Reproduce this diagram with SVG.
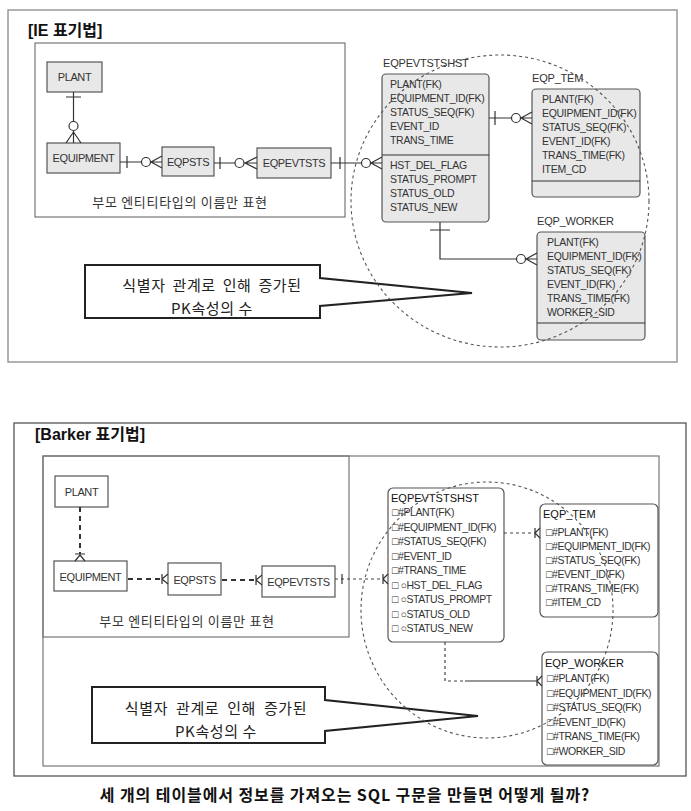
<svg xmlns="http://www.w3.org/2000/svg" width="691" height="811" viewBox="0 0 691 811">
<style>
text{font-family:"Liberation Sans","Noto Sans CJK KR",sans-serif;fill:#222}
.ttl{font-size:16px;font-weight:bold;fill:#111}
.kr{font-family:"Noto Sans CJK KR",sans-serif;font-size:13px;letter-spacing:0.7px;fill:#333}
.co{font-family:"Noto Sans CJK KR",sans-serif;font-size:15px;letter-spacing:0.6px;fill:#222;text-anchor:middle}
.cap{font-family:"Noto Sans CJK KR",sans-serif;font-size:16px;font-weight:bold;letter-spacing:0.9px;fill:#111;text-anchor:middle}
.en{font-size:11px;letter-spacing:-0.4px;text-anchor:middle;fill:#333}
.lb{font-size:11px;letter-spacing:-0.2px;fill:#333}
.at{font-size:10.5px;letter-spacing:-0.3px;fill:#333}
.bat{font-size:10.5px;letter-spacing:-0.4px;fill:#333}
.bt{font-size:11px;fill:#111}
.ie{fill:#e8e8e8;stroke:#555;stroke-width:1.2}
.bk{fill:#fff;stroke:#555;stroke-width:1.2}
.frame{fill:none;stroke:#999;stroke-width:1.5}
.inner{fill:none;stroke:#777;stroke-width:1.2}
.ln{fill:none;stroke:#333;stroke-width:1.2}
.cir{fill:#fff;stroke:#333;stroke-width:1.2}
.dl{fill:none;stroke:#444;stroke-width:1.2;stroke-dasharray:3,3}
.db{fill:none;stroke:#333;stroke-width:2;stroke-dasharray:5,4}
.ring{fill:none;stroke:#555;stroke-width:1.1;stroke-dasharray:3,3}
.call{fill:#fff;stroke:#222;stroke-width:2}
</style>

<!-- ===== IE section ===== -->
<g id="ie-frame">
<rect class="frame" x="8" y="10" width="669" height="352"/>
<text class="ttl" x="28" y="36">[IE 표기법]</text>
<rect class="inner" x="35" y="43" width="310" height="174"/>
<text class="kr" x="180" y="207" text-anchor="middle">부모 엔티티타입의 이름만 표현</text>
</g>

<g id="ie-plant"><rect class="ie" x="47" y="62" width="55" height="30"/><text class="en" x="74.5" y="81">PLANT</text></g>
<g id="ie-equipment"><rect class="ie" x="47" y="143" width="73" height="30"/><text class="en" x="83.5" y="162">EQUIPMENT</text></g>
<g id="ie-eqpsts"><rect class="ie" x="162" y="147" width="52" height="29"/><text class="en" x="188" y="166">EQPSTS</text></g>
<g id="ie-eqpevtsts"><rect class="ie" x="257" y="148" width="74" height="30"/><text class="en" x="294" y="167">EQPEVTSTS</text></g>

<g id="ie-eqpevtstshst">
<text class="lb" x="383" y="67">EQPEVTSTSHST</text>
<rect class="ie" x="382" y="74" width="107" height="148" rx="4"/>
<line class="ln" x1="382" y1="155" x2="489" y2="155"/>
<text class="at" x="390" y="88">PLANT(FK)</text>
<text class="at" x="390" y="102">EQUIPMENT_ID(FK)</text>
<text class="at" x="390" y="116">STATUS_SEQ(FK)</text>
<text class="at" x="390" y="130">EVENT_ID</text>
<text class="at" x="390" y="144">TRANS_TIME</text>
<text class="at" x="390" y="169">HST_DEL_FLAG</text>
<text class="at" x="390" y="183">STATUS_PROMPT</text>
<text class="at" x="390" y="197">STATUS_OLD</text>
<text class="at" x="390" y="211">STATUS_NEW</text>
</g>

<g id="ie-eqp-tem">
<text class="lb" x="532" y="82">EQP_TEM</text>
<rect class="ie" x="532" y="89" width="108" height="108" rx="4"/>
<line class="ln" x1="532" y1="181" x2="640" y2="181"/>
<text class="at" x="542" y="103">PLANT(FK)</text>
<text class="at" x="542" y="117">EQUIPMENT_ID(FK)</text>
<text class="at" x="542" y="131">STATUS_SEQ(FK)</text>
<text class="at" x="542" y="145">EVENT_ID(FK)</text>
<text class="at" x="542" y="159">TRANS_TIME(FK)</text>
<text class="at" x="542" y="173">ITEM_CD</text>
</g>

<g id="ie-eqp-worker">
<text class="lb" x="537" y="225">EQP_WORKER</text>
<rect class="ie" x="537" y="232" width="108" height="108" rx="4"/>
<line class="ln" x1="537" y1="323" x2="645" y2="323"/>
<text class="at" x="547" y="246">PLANT(FK)</text>
<text class="at" x="547" y="260">EQUIPMENT_ID(FK)</text>
<text class="at" x="547" y="274">STATUS_SEQ(FK)</text>
<text class="at" x="547" y="288">EVENT_ID(FK)</text>
<text class="at" x="547" y="302">TRANS_TIME(FK)</text>
<text class="at" x="547" y="316">WORKER_SID</text>
</g>

<g id="ie-connectors">
<path class="ln" d="M73.5,92 V143 M66,97 H81 M73.5,132 L66,143 M73.5,132 L81,143"/>
<circle class="cir" cx="73.5" cy="126" r="4.5"/>
<path class="ln" d="M120,162 H162 M127,156 V168 M151,162 L162,156 M151,162 L162,168"/>
<circle class="cir" cx="146" cy="162" r="4.5"/>
<path class="ln" d="M214,163 H257 M220,157 V169 M245,163 L257,157 M245,163 L257,169"/>
<circle class="cir" cx="239.5" cy="163" r="4.5"/>
<path class="ln" d="M331,163 H382 M340,157 V169 M371,163 L382,157 M371,163 L382,169"/>
<circle class="cir" cx="366" cy="163" r="4.5"/>
<path class="ln" d="M489,118 H532 M495,111 V125 M521,118 L532,112 M521,118 L532,124"/>
<circle class="cir" cx="516" cy="118" r="4.5"/>
<path class="ln" d="M440,222 V259 H537 M430,230 H450 M526,259 L537,253 M526,259 L537,265"/>
<circle class="cir" cx="521" cy="259" r="4.5"/>
</g>

<g id="ie-callout">
<path class="call" d="M85,265 H320 V278 L472,293 L320,306 V318 H85 Z"/>
<text class="co" x="212" y="291" word-spacing="3">식별자 관계로 인해 증가된</text>
<text class="co" x="212" y="314">PK속성의 수</text>
</g>
<ellipse class="ring" cx="500" cy="201" rx="149" ry="146"/>

<!-- ===== Barker section ===== -->
<g id="bk-frame">
<rect x="14" y="423" width="672" height="353" fill="none" stroke="#555" stroke-width="1.3"/>
<text class="ttl" x="35" y="440">[Barker 표기법]</text>
<rect class="inner" x="43" y="456" width="616" height="310" stroke="#888"/>
<rect class="inner" x="43" y="456" width="306" height="181"/>
<text class="kr" x="187" y="626" text-anchor="middle">부모 엔티티타입의 이름만 표현</text>
</g>

<g id="bk-plant"><rect class="bk" x="55" y="476" width="53" height="31"/><text class="en" x="81.5" y="496">PLANT</text></g>
<g id="bk-equipment"><rect class="bk" x="54" y="561" width="73" height="30"/><text class="en" x="90.5" y="581">EQUIPMENT</text></g>
<g id="bk-eqpsts"><rect class="bk" x="168" y="563" width="53" height="32"/><text class="en" x="194.5" y="584">EQPSTS</text></g>
<g id="bk-eqpevtsts"><rect class="bk" x="262" y="566" width="73" height="31"/><text class="en" x="298.5" y="586">EQPEVTSTS</text></g>

<g id="bk-eqpevtstshst">
<rect class="bk" x="388" y="488" width="116" height="154" rx="5"/>
<text class="bt" x="391" y="502">EQPEVTSTSHST</text>
<text class="bat" x="392" y="516">□#PLANT(FK)</text>
<text class="bat" x="392" y="530.5">□#EQUIPMENT_ID(FK)</text>
<text class="bat" x="392" y="545">□#STATUS_SEQ(FK)</text>
<text class="bat" x="392" y="559.5">□#EVENT_ID</text>
<text class="bat" x="392" y="574">□#TRANS_TIME</text>
<text class="bat" x="392" y="588.5">□ ○HST_DEL_FLAG</text>
<text class="bat" x="392" y="603">□ ○STATUS_PROMPT</text>
<text class="bat" x="392" y="617.5">□ ○STATUS_OLD</text>
<text class="bat" x="392" y="632">□ ○STATUS_NEW</text>
</g>

<g id="bk-eqp-tem">
<rect class="bk" x="540" y="504" width="118" height="113" rx="5"/>
<text class="bt" x="543" y="518">EQP_TEM</text>
<text class="bat" x="546" y="536">□#PLANT(FK)</text>
<text class="bat" x="546" y="550">□#EQUIPMENT_ID(FK)</text>
<text class="bat" x="546" y="564">□#STATUS_SEQ(FK)</text>
<text class="bat" x="546" y="578">□#EVENT_ID(FK)</text>
<text class="bat" x="546" y="592">□#TRANS_TIME(FK)</text>
<text class="bat" x="546" y="606">□#ITEM_CD</text>
</g>

<g id="bk-eqp-worker">
<rect class="bk" x="542" y="652" width="116" height="113" rx="5"/>
<text class="bt" x="545" y="667">EQP_WORKER</text>
<text class="bat" x="547" y="682">□#PLANT(FK)</text>
<text class="bat" x="547" y="696.5">□#EQUIPMENT_ID(FK)</text>
<text class="bat" x="547" y="711">□#STATUS_SEQ(FK)</text>
<text class="bat" x="547" y="725.5">□#EVENT_ID(FK)</text>
<text class="bat" x="547" y="740">□#TRANS_TIME(FK)</text>
<text class="bat" x="547" y="754.5">□#WORKER_SID</text>
</g>

<g id="bk-connectors">
<path class="db" stroke-width="1.5" d="M80,507 V554"/>
<path class="ln" d="M75,554 H85 M80,555 L75,561 M80,555 L85,561"/>
<path class="db" d="M128,579 H162"/>
<path class="ln" d="M162,574 V584 M162,579 L168,574 M162,579 L168,584"/>
<path class="db" d="M222,580 H256"/>
<path class="ln" d="M256,575 V585 M256,580 L262,575 M256,580 L262,585"/>
<path class="dl" d="M335,579 H383"/>
<path class="ln" d="M342,574 V584 M383,574 V584 M383,579 L388,574 M383,579 L388,584"/>
<path class="dl" d="M504,533 H535"/>
<path class="ln" d="M535,528 V538 M535,533 L540,528 M535,533 L540,538"/>
<path class="dl" d="M445,642 V681 H465"/>
<path class="ln" d="M465,681 H537 M537,676 V686 M537,681 L542,676 M537,681 L542,686"/>
</g>

<g id="bk-callout">
<path class="call" d="M92,687 H325 V700 L478,716 L325,731 V743 H92 Z"/>
<text class="co" x="216" y="714" word-spacing="4">식별자 관계로 인해 증가된</text>
<text class="co" x="216" y="737">PK속성의 수</text>
</g>
<ellipse class="ring" cx="487" cy="610" rx="126" ry="128"/>

<text class="cap" x="345" y="801">세 개의 테이블에서 정보를 가져오는 SQL 구문을 만들면 어떻게 될까?</text>
</svg>
